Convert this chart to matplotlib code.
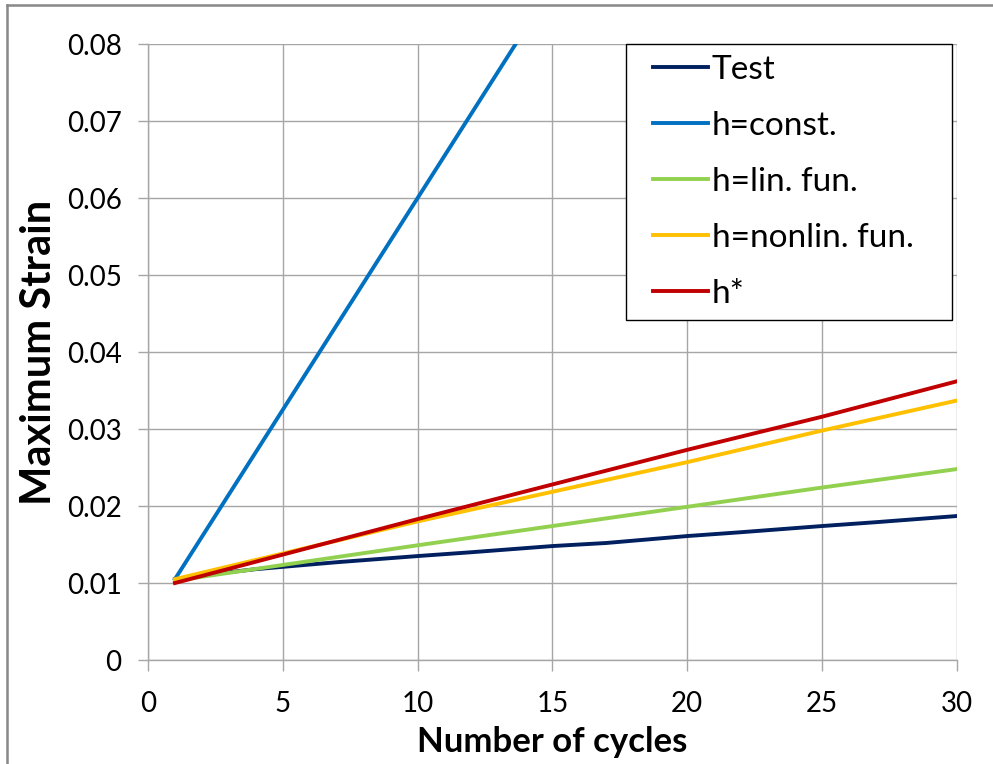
import matplotlib.pyplot as plt
from matplotlib.lines import Line2D
from matplotlib.patches import Rectangle

# values
cycles_test = [1, 2, 3, 4, 5, 7, 10, 12, 15, 17, 20, 22, 25, 27, 30]
test = [0.0105, 0.0110, 0.0114, 0.0118, 0.0121, 0.0127, 0.0135, 0.0140,
        0.0148, 0.0152, 0.0161, 0.0166, 0.0174, 0.0179, 0.0187]

cycles_const = [1, 5, 10, 15]
h_const = [0.0105, 0.0325, 0.0600, 0.0875]

cycles = [1, 10, 20, 25, 30]
h_lin = [0.0103, 0.0149, 0.0199, 0.0224, 0.0248]
h_nonlin = [0.0105, 0.0180, 0.0257, 0.0298, 0.0337]
h_star = [0.0100, 0.0183, 0.0273, 0.0316, 0.0362]

x_ticks = [0, 5, 10, 15, 20, 25, 30]
y_ticks = [0, 0.01, 0.02, 0.03, 0.04, 0.05, 0.06, 0.07, 0.08]
y_labels = ['0', '0.01', '0.02', '0.03', '0.04', '0.05', '0.06', '0.07', '0.08']

plt.rcParams['font.family'] = ['Lato', 'DejaVu Sans']

fig = plt.figure(figsize=(9.93, 7.64), dpi=100)
ax = fig.add_axes([0.149, 0.1361, 0.8147, 0.8063])

lw = 2.8
ax.plot(cycles_test, test, color='#002060', lw=lw, label='Test', zorder=3)
ax.plot(cycles_const, h_const, color='#0070c0', lw=lw, label='h=const.', zorder=3)
ax.plot(cycles, h_lin, color='#92d050', lw=lw, label='h=lin. fun.', zorder=3)
ax.plot(cycles, h_nonlin, color='#ffc000', lw=lw, label='h=nonlin. fun.', zorder=3)
ax.plot(cycles, h_star, color='#c00000', lw=lw, label='h*', zorder=3)

ax.set_xlim(0, 30)
ax.set_ylim(0, 0.08)
ax.set_xticks(x_ticks)
ax.set_yticks(y_ticks)
ax.set_yticklabels(y_labels)
ax.grid(True, color='#a6a6a6', linewidth=1.0)
ax.set_axisbelow(True)
for s in ['top', 'right']:
    ax.spines[s].set_visible(False)
for s in ['left', 'bottom']:
    ax.spines[s].set_color('#a6a6a6')
    ax.spines[s].set_linewidth(1.0)
ax.tick_params(axis='both', colors='#a6a6a6', labelcolor='black', labelsize=20,
               width=1.0)
ax.tick_params(axis='x', length=8, pad=14)
ax.tick_params(axis='y', length=7, pad=12)

ax.set_xlabel('Number of cycles', fontsize=25, fontweight='bold', labelpad=7)
ax.set_ylabel('Maximum Strain', fontsize=30, fontweight='bold', labelpad=6)

# legend box drawn separately so its padding can match the Excel one
ax.add_patch(Rectangle(((626 - 148) / 809, (660 - 320) / 616),
                       (952 - 626) / 809, (320 - 44) / 616,
                       transform=ax.transAxes, facecolor='white',
                       edgecolor='black', lw=1.0, zorder=4, clip_on=False))
leg = ax.legend(loc='upper left', bbox_to_anchor=((653 - 148) / 809, (660 - 55) / 616),
                borderaxespad=0, borderpad=0, frameon=False, fontsize=24,
                handlelength=1.65, handletextpad=0.12, labelspacing=0.78)
leg.set_zorder(5)

# outer border like the Excel chart area
fig.add_artist(Line2D([7 / 993, 1], [1 - 5 / 764, 1 - 5 / 764],
                      transform=fig.transFigure, color='#888888', lw=1.8))
fig.add_artist(Line2D([7 / 993, 7 / 993], [0, 1 - 5 / 764],
                      transform=fig.transFigure, color='#888888', lw=1.8))

plt.savefig('out.png', dpi=100)
